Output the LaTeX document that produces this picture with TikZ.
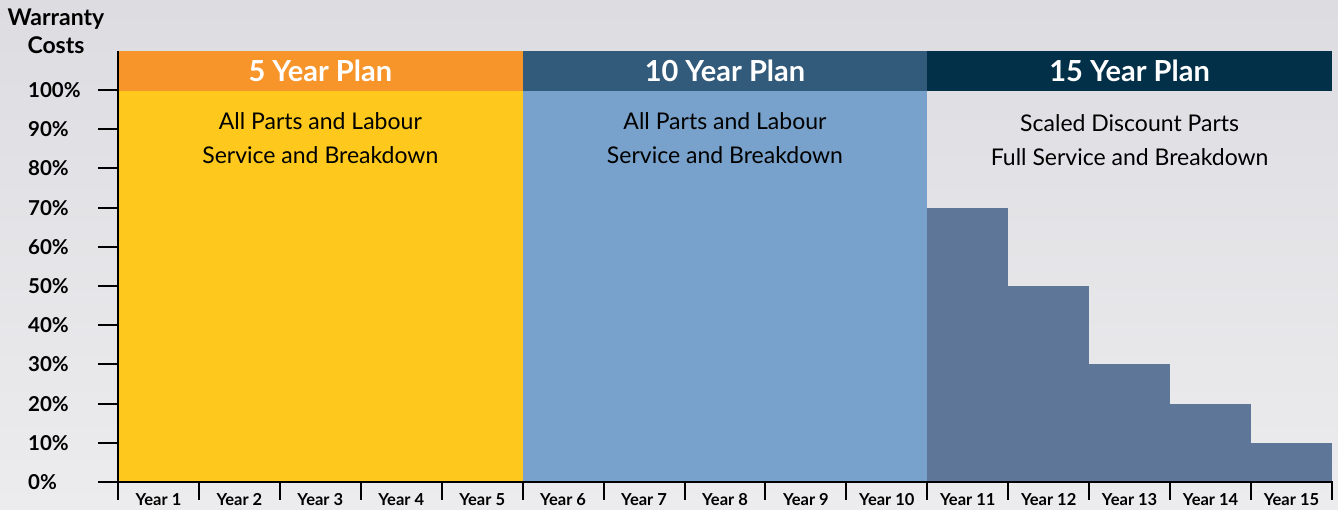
\documentclass[tikz,border=0pt]{standalone}
\usepackage{fontspec}
\setmainfont{Lato}
\usepackage{tikz}
\usetikzlibrary{positioning}
\usepackage{xcolor}
\definecolor{planorange}{HTML}{F7942A}
\definecolor{planyellow}{HTML}{FEC91C}
\definecolor{planblue}{HTML}{78A2CB}
\definecolor{headblue}{HTML}{325B7B}
\definecolor{headnavy}{HTML}{023049}
\definecolor{barblue}{HTML}{5E7698}
\definecolor{bgtop}{HTML}{DDDCE1}
\definecolor{bgbottom}{HTML}{ECECEE}
\newcommand{\yearw}{80.93}
\newcommand{\pctstep}{39.2}

\begin{document}
\begin{tikzpicture}[x=1pt,y=-1pt,
	header/.style={fill=#1, text=white, font=\bfseries\fontsize{29}{32}\selectfont, minimum width=404.65pt, minimum height=40pt, inner sep=0pt},
	plantext/.style={align=center, inner sep=0pt, font=\fontsize{23}{34}\selectfont},
	pctlabel/.style={anchor=base west, inner sep=0pt, font=\bfseries\fontsize{20.5}{24}\selectfont},
	yearlabel/.style={anchor=base, inner sep=0pt, font=\bfseries\fontsize{16.5}{18}\selectfont},
	axisline/.style={line width=2pt, black}]
\useasboundingbox (0,0) rectangle (1338,510);
\shade[top color=bgtop, bottom color=bgbottom] (0,0) rectangle (1338,510);
\coordinate (origin) at (118,482);
\coordinate (ytop) at (118,51);
\coordinate (xend) at (1333,482);
\coordinate (xstart) at (98,482);
\fill[planyellow] (118,91) rectangle ({118+5*\yearw},482);
\fill[planblue] ({118+5*\yearw},91) rectangle ({118+10*\yearw},482);
\foreach \h [count=\i from 11] in {7,5,3,2,1}
	\fill[barblue] ({118+(\i-1)*\yearw},{482-\pctstep*\h}) rectangle ({118+\i*\yearw},482);
\node[header=planorange] (plan5) at ({118+2.5*\yearw},71) {5 Year Plan};
\node[header=headblue] (plan10) at ({118+7.5*\yearw},71) {10 Year Plan};
\node[header=headnavy] (plan15) at ({118+12.5*\yearw},71) {15 Year Plan};
\node[plantext] (text5) at ({118+2.5*\yearw},138) {All Parts and Labour\\Service and Breakdown};
\node[plantext] (text10) at ({118+7.5*\yearw},138) {All Parts and Labour\\Service and Breakdown};
\node[plantext] (text15) at ({118+12.5*\yearw},140) {Scaled Discount Parts\\Full Service and Breakdown};
\node[align=center, inner sep=0pt, font=\bfseries\fontsize{23}{28}\selectfont] (ytitle) at (56,31) {Warranty\\Costs};
\foreach \v in {0,...,10}{
	\node[pctlabel] (pct\v) at (28,{482-\pctstep*\v+7.5}) {\the\numexpr\v*10\relax\%};
	\draw[axisline] (98,{482-\pctstep*\v}) -- (118,{482-\pctstep*\v});
}
\foreach \i in {0,...,15}
	\draw[axisline] ({118+\i*\yearw},482) -- ({118+\i*\yearw},500);
\foreach \i in {1,...,15}
	\node[yearlabel] (year\i) at ({118+(\i-0.5)*\yearw},505) {Year \i};
\draw[axisline] (ytop) -- (origin);
\draw[axisline] (xstart) -- (xend);
\end{tikzpicture}
\end{document}
